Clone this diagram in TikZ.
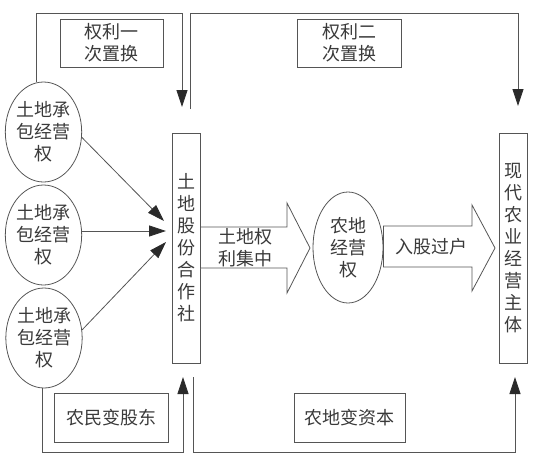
\documentclass[tikz,border=0pt]{standalone}
\usepackage{fontspec}
\newfontfamily\cjk{Noto Sans CJK SC}
\usetikzlibrary{shapes.geometric,arrows.meta}
\definecolor{ln}{HTML}{555555}
\definecolor{tx}{HTML}{3A3A3A}
\definecolor{hd}{HTML}{2A2A2A}
\begin{document}
\begin{tikzpicture}[x=1pt,y=-1pt,
  every node/.style={font=\cjk\fontsize{18}{22}\selectfont, text=tx, inner sep=0pt},
  box/.style={draw=ln, line width=0.8pt, rectangle},
  ell/.style={draw=ln, line width=0.8pt, ellipse, minimum width=73pt, minimum height=100pt, align=center},
  conn/.style={draw=ln, line width=0.8pt},
  arr/.style={conn, -{Triangle[width=11pt,length=17pt,fill=hd,color=hd]}},
  bigarr/.style={draw=ln, line width=0.8pt, fill=white}
]
\useasboundingbox (0,0) rectangle (543,469);
% ellipses
\node[ell] (e1) at (43.5,132) {土地承\\包经营\\权};
\node[ell] (e2) at (43.5,235) {土地承\\包经营\\权};
\node[ell] (e3) at (44,338) {土地承\\包经营\\权};
% vertical boxes
\node[box, minimum width=28pt, minimum height=230pt, align=center] (coop) at (186,248) {土\\地\\股\\份\\合\\作\\社};
\node[box, minimum width=28pt, minimum height=230pt, align=center] (main) at (513,248) {现\\代\\农\\业\\经\\营\\主\\体};
% middle ellipse
\node[ell, minimum width=70pt, minimum height=111pt] (e4) at (348,247.5) {农地\\经营\\权};
% label boxes
\node[box, minimum width=103pt, minimum height=48pt, align=center] (l1) at (111.5,43) {权利一\\次置换};
\node[box, minimum width=104pt, minimum height=48pt, align=center] (l2) at (349,43) {权利二\\次置换};
\node[box, minimum width=114pt, minimum height=49pt] (l3) at (111,417.5) {农民变股东};
\node[box, minimum width=111pt, minimum height=49pt] (l4) at (349.5,417.5) {农地变资本};
% big arrows
\draw[bigarr] (coop.east |- 0,227) -- (287,227) -- (287,203) -- (310,248) -- (287,293) -- (287,268) -- (coop.east |- 0,268) -- cycle;
\node[align=center] (t1) at (245,247.5) {土地权\\利集中};
\draw[bigarr] (e4.east |- 0,226) -- (472,226) -- (472,205) -- (495,248) -- (472,291) -- (472,267) -- (e4.east |- 0,267) -- cycle;
\node (t2) at (431,247) {入股过户};
% connectors from ellipses
\coordinate (c1) at (164,221);
\coordinate (c2) at (166,231);
\coordinate (c3) at (166,242);
\draw[arr] (e1.-8) -- (c1);
\draw[arr] (e2.east |- c2) -- (c2);
\draw[arr] (e3.12) -- (c3);
% top connectors
\coordinate (d1) at (182,107);
\coordinate (d2) at (518,106);
\draw[arr] (e1.north -| 36,0) |- (182,13) -- (d1);
\coordinate (s2) at (190,109);
\draw[arr] (s2) |- (518,13) -- (d2);
% bottom connectors
\coordinate (u1) at (183,377);
\coordinate (u2) at (515,377);
\coordinate (s3) at (193,377);
\draw[arr] (e3.south -| 42,0) |- (183,452) -- (u1);
\draw[arr] (s3) |- (515,452) -- (u2);
\end{tikzpicture}
\end{document}
